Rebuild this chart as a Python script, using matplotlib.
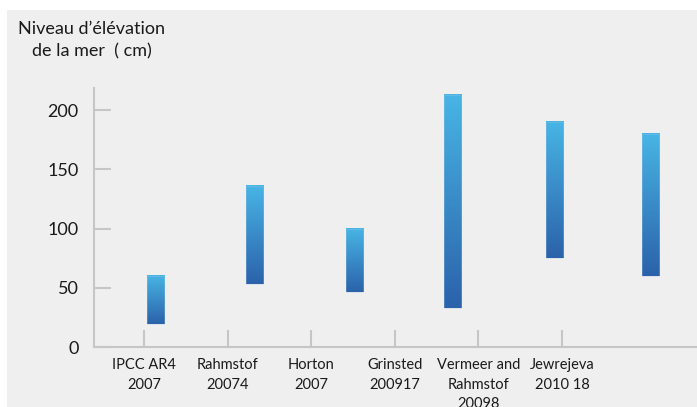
import matplotlib
matplotlib.use("Agg")
import matplotlib.pyplot as plt
import numpy as np
from matplotlib.colors import LinearSegmentedColormap
from matplotlib.patches import Rectangle

# ---- data ----
categories = ["IPCC AR4\n2007", "Rahmstof\n20074", "Horton\n2007",
              "Grinsted\n200917", "Vermeer and\nRahmstof\n20098", "Jewrejeva\n2010 18"]
low_values = [19, 53, 46, 33, 75, 60]
high_values = [60, 136, 100, 213, 190, 180]
y_ticks = [0, 50, 100, 150, 200]
y_label = "Niveau d\u2019élévation\nde la mer  ( cm)"

# ---- layout / style ----
bar_offsets = [0.14, 0.32, 0.52, 0.69, 0.91, 1.06]  # bars sit right of their tick
bar_width = 0.21
plt.rcParams['font.family'] = ['Lato', 'DejaVu Sans']

W, H = 697, 407
fig = plt.figure(figsize=(W / 100, H / 100), dpi=100)
fig.patch.set_facecolor("white")
fig.add_artist(Rectangle((7 / W, 0), 1, (H - 10) / H, transform=fig.transFigure,
                         facecolor="#efefef", edgecolor="none", zorder=0))

ax = fig.add_axes([94 / W, 60 / H, (W - 94) / W, (347 - 88) / H])
ax.set_facecolor("none")

cmap = LinearSegmentedColormap.from_list("g", ["#2b62aa", "#48b5e5"])
grad = np.linspace(0, 1, 256).reshape(-1, 1)
x_pos = np.arange(len(categories))
for i, (lo, hi) in enumerate(zip(low_values, high_values)):
    xc = x_pos[i] + bar_offsets[i]
    ax.imshow(grad, extent=(xc - bar_width / 2, xc + bar_width / 2, lo, hi),
              cmap=cmap, aspect="auto", origin="lower", zorder=3,
              interpolation="bilinear")
    ax.add_patch(Rectangle((xc - bar_width / 2, lo), bar_width, hi - lo,
                           fill=False, edgecolor="#a8c8e6", linewidth=0.6,
                           alpha=0.35, zorder=4))

ax.set_xlim(-0.598, 6.615)
ax.set_ylim(0, 218.6)

for s in ["top", "right"]:
    ax.spines[s].set_visible(False)
for s in ["left", "bottom"]:
    ax.spines[s].set_color("#c6c6c6")
    ax.spines[s].set_linewidth(1.5)

ax.set_yticks(y_ticks)
ax.set_yticklabels([str(v) for v in y_ticks])
ax.set_xticks(x_pos)
ax.set_xticklabels(categories, linespacing=1.5)
ax.tick_params(axis="y", direction="in", length=12, width=1.5, color="#c6c6c6",
               pad=11, labelsize=13, labelcolor="#1a1a1a")
ax.tick_params(axis="x", direction="in", length=12, width=1.5, color="#c6c6c6",
               pad=8, labelsize=10.5, labelcolor="#1a1a1a")
for lab in ax.get_xticklabels():
    lab.set_verticalalignment("top")

fig.text(92 / W, 1 - 21 / H, y_label, ha="center", va="top", fontsize=13,
         color="#1a1a1a", linespacing=1.45)

fig.savefig("out.png", dpi=100, facecolor=fig.get_facecolor())
